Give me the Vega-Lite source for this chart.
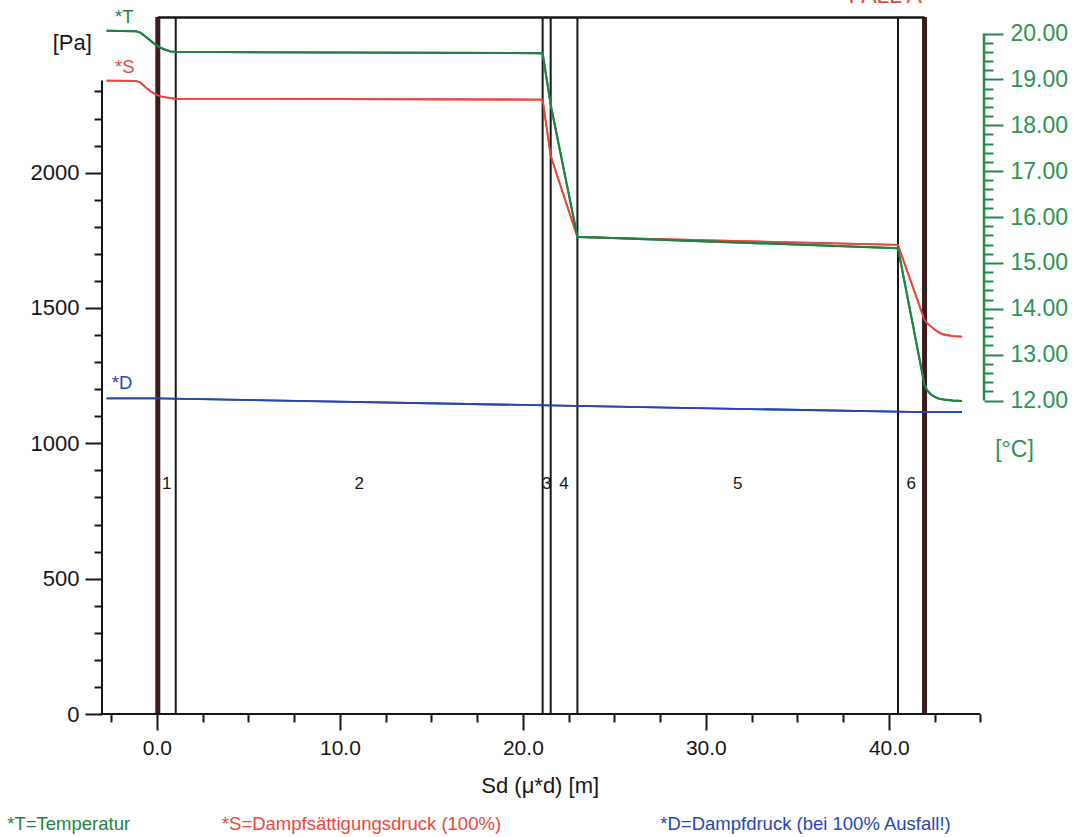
{
  "$schema": "https://vega.github.io/schema/vega-lite/v6.json",
  "width": 882,
  "height": 697,
  "autosize": {"type": "none"},
  "padding": {"left": 102, "top": 17, "right": 91, "bottom": 123},
  "background": "white",
  "config": {
    "view": {"stroke": null},
    "font": "Liberation Sans",
    "text": {"font": "Liberation Sans"},
    "axis": {"labelOverlap": false, "labelFlush": false, "labelBound": false},
    "axisQuantitative": {"labelOverlap": false}
  },
  "datasets": {
    "temperatur": [
      {"sd": -2.75, "t": 20.06}, {"sd": -1.15, "t": 20.05}, {"sd": -0.9, "t": 20.02},
      {"sd": -0.61, "t": 19.93}, {"sd": -0.33, "t": 19.84}, {"sd": -0.06, "t": 19.75},
      {"sd": 0.2, "t": 19.69}, {"sd": 0.49, "t": 19.64}, {"sd": 0.75, "t": 19.61},
      {"sd": 1.03, "t": 19.6}, {"sd": 21.08, "t": 19.57}, {"sd": 21.52, "t": 18.45},
      {"sd": 22.98, "t": 15.57}, {"sd": 40.5, "t": 15.32}, {"sd": 41.95, "t": 12.34},
      {"sd": 42.1, "t": 12.22}, {"sd": 42.3, "t": 12.13}, {"sd": 42.5, "t": 12.08},
      {"sd": 42.75, "t": 12.04}, {"sd": 43.0, "t": 12.02}, {"sd": 43.5, "t": 12.0},
      {"sd": 44.0, "t": 11.99}
    ],
    "druck": [
      {"sd": -2.75, "pa": 2340, "reihe": "S"}, {"sd": -1.15, "pa": 2339, "reihe": "S"},
      {"sd": -0.9, "pa": 2333, "reihe": "S"}, {"sd": -0.61, "pa": 2315, "reihe": "S"},
      {"sd": -0.33, "pa": 2300, "reihe": "S"}, {"sd": -0.06, "pa": 2289, "reihe": "S"},
      {"sd": 0.2, "pa": 2282, "reihe": "S"}, {"sd": 0.49, "pa": 2278, "reihe": "S"},
      {"sd": 0.75, "pa": 2275, "reihe": "S"}, {"sd": 1.03, "pa": 2273, "reihe": "S"},
      {"sd": 21.08, "pa": 2270, "reihe": "S"}, {"sd": 21.52, "pa": 2062, "reihe": "S"},
      {"sd": 22.98, "pa": 1762, "reihe": "S"}, {"sd": 40.5, "pa": 1733, "reihe": "S"},
      {"sd": 41.95, "pa": 1455, "reihe": "S"}, {"sd": 42.1, "pa": 1443, "reihe": "S"},
      {"sd": 42.3, "pa": 1432, "reihe": "S"}, {"sd": 42.5, "pa": 1420, "reihe": "S"},
      {"sd": 42.75, "pa": 1409, "reihe": "S"}, {"sd": 43.0, "pa": 1402, "reihe": "S"},
      {"sd": 43.5, "pa": 1396, "reihe": "S"}, {"sd": 44.0, "pa": 1394, "reihe": "S"},
      {"sd": -2.75, "pa": 1166, "reihe": "D"}, {"sd": 0.05, "pa": 1166, "reihe": "D"},
      {"sd": 41.95, "pa": 1115, "reihe": "D"}, {"sd": 44.0, "pa": 1115, "reihe": "D"}
    ],
    "grenzen": [
      {"sd": 0.05, "rand": true}, {"sd": 1.03, "rand": false}, {"sd": 21.08, "rand": false},
      {"sd": 21.52, "rand": false}, {"sd": 22.98, "rand": false}, {"sd": 40.5, "rand": false},
      {"sd": 41.95, "rand": true}
    ],
    "schichten": [
      {"nr": "1", "sd": 0.54}, {"nr": "2", "sd": 11.06}, {"nr": "3", "sd": 21.3},
      {"nr": "4", "sd": 22.25}, {"nr": "5", "sd": 31.74}, {"nr": "6", "sd": 41.23}
    ],
    "kurzzeichen": [
      {"text": "*T", "sd": -2.29, "pa": 2552, "reihe": "T"},
      {"text": "*S", "sd": -2.29, "pa": 2367, "reihe": "S"},
      {"text": "*D", "sd": -2.47, "pa": 1200, "reihe": "D"}
    ],
    "legende": [
      {"text": "*T=Temperatur", "sd": -8.18, "pa": -428, "reihe": "T"},
      {"text": "*S=Dampfsättigungsdruck (100%)", "sd": 3.55, "pa": -428, "reihe": "S"},
      {"text": "*D=Dampfdruck (bei 100% Ausfall!)", "sd": 27.51, "pa": -428, "reihe": "D"}
    ],
    "fall": [
      {"text": "FALL A", "sd": 37.79, "pa": 2625, "reihe": "S"}
    ]
  },
  "layer": [
    {
      "layer": [
        {
          "data": {"name": "druck"},
          "mark": {"type": "line", "strokeWidth": 1.8},
          "encoding": {
            "x": {
              "field": "sd", "type": "quantitative",
              "scale": {"domain": [-3.0, 45.2], "nice": false, "zero": false},
              "axis": {
                "values": [-2.5, 0, 2.5, 5, 7.5, 10, 12.5, 15, 17.5, 20, 22.5, 25, 27.5, 30, 32.5, 35, 37.5, 40, 42.5, 45],
                "tickCount": 200,
                "domain": false, "grid": false,
                "tickColor": "#161616", "tickWidth": 2,
                "tickSize": {"condition": {"test": "datum.value % 10 === 0", "value": 16}, "value": 8},
                "labelExpr": "datum.value % 10 === 0 ? format(datum.value, '.1f') : ''",
                "labelFont": "Liberation Sans", "labelFontSize": 21, "labelColor": "#161616",
                "labelPadding": 7, "labelOverlap": false, "labelFlush": false, "labelBound": false,
                "title": "Sd (μ*d) [m]", "titleFont": "Liberation Sans", "titleFontSize": 22,
                "titleFontWeight": "normal", "titleColor": "#161616",
                "titleX": 437.7, "titleY": 78.7, "titleAlign": "center", "titleBaseline": "alphabetic"
              }
            },
            "y": {
              "field": "pa", "type": "quantitative",
              "scale": {"domain": [0, 2575], "nice": false, "zero": false},
              "axis": {
                "orient": "left",
                "values": [0, 100, 200, 300, 400, 500, 600, 700, 800, 900, 1000, 1100, 1200, 1300, 1400, 1500, 1600, 1700, 1800, 1900, 2000, 2100, 2200, 2300],
                "tickCount": 200,
                "domain": false, "grid": false,
                "tickColor": "#161616", "tickWidth": 2,
                "tickSize": {"condition": {"test": "datum.value % 500 === 0", "value": 17}, "value": 8},
                "labelExpr": "datum.value % 500 === 0 ? format(datum.value, 'd') : ''",
                "labelFont": "Liberation Sans", "labelFontSize": 22, "labelColor": "#161616",
                "labelPadding": 6, "labelOverlap": false, "labelBound": false, "labelFlush": false,
                "title": "[Pa]", "titleFont": "Liberation Sans", "titleFontSize": 22,
                "titleFontWeight": "normal", "titleColor": "#161616", "titleAngle": 0,
                "titleX": -30.3, "titleY": 32.3, "titleAlign": "center", "titleBaseline": "alphabetic"
              }
            },
            "color": {"field": "reihe", "type": "nominal", "scale": {"domain": ["T", "S", "D"], "range": ["#1f8244", "#e8473d", "#2747ae"]}, "legend": null},
            "detail": {"field": "reihe"}
          }
        },
        {
          "data": {"name": "grenzen"},
          "transform": [{"filter": "datum.rand == false"}],
          "mark": {"type": "rule", "color": "#161616", "strokeWidth": 2},
          "encoding": {
            "x": {"field": "sd", "type": "quantitative", "scale": {"domain": [-3.0, 45.2], "nice": false, "zero": false}},
            "y": {"datum": 0, "type": "quantitative", "scale": {"domain": [0, 2575], "nice": false, "zero": false}},
            "y2": {"datum": 2575}
          }
        },
        {
          "data": {"name": "grenzen"},
          "transform": [{"filter": "datum.rand == true"}],
          "mark": {"type": "rule", "color": "#3a1c1e", "strokeWidth": 5},
          "encoding": {
            "x": {"field": "sd", "type": "quantitative", "scale": {"domain": [-3.0, 45.2], "nice": false, "zero": false}},
            "y": {"datum": 0, "type": "quantitative", "scale": {"domain": [0, 2575], "nice": false, "zero": false}},
            "y2": {"datum": 2575}
          }
        },
        {
          "data": {"values": [{}]},
          "mark": {"type": "rule", "color": "#161616", "strokeWidth": 2.5},
          "encoding": {
            "x": {"datum": 0.05, "type": "quantitative", "scale": {"domain": [-3.0, 45.2], "nice": false, "zero": false}},
            "x2": {"datum": 41.95},
            "y": {"datum": 2573, "type": "quantitative", "scale": {"domain": [0, 2575], "nice": false, "zero": false}}
          }
        },
        {
          "data": {"values": [{}]},
          "mark": {"type": "rule", "color": "#161616", "strokeWidth": 2},
          "encoding": {
            "x": {"datum": -3.0, "type": "quantitative", "scale": {"domain": [-3.0, 45.2], "nice": false, "zero": false}},
            "y": {"datum": 0, "type": "quantitative", "scale": {"domain": [0, 2575], "nice": false, "zero": false}},
            "y2": {"datum": 2340}
          }
        },
        {
          "data": {"values": [{}]},
          "mark": {"type": "rule", "color": "#161616", "strokeWidth": 2},
          "encoding": {
            "x": {"datum": -3.1, "type": "quantitative", "scale": {"domain": [-3.0, 45.2], "nice": false, "zero": false}},
            "x2": {"datum": 45.0},
            "y": {"datum": 0, "type": "quantitative", "scale": {"domain": [0, 2575], "nice": false, "zero": false}}
          }
        },
        {
          "data": {"name": "druck"},
          "mark": {"type": "line", "strokeWidth": 1.8},
          "encoding": {
            "x": {"field": "sd", "type": "quantitative", "scale": {"domain": [-3.0, 45.2], "nice": false, "zero": false}},
            "y": {"field": "pa", "type": "quantitative", "scale": {"domain": [0, 2575], "nice": false, "zero": false}},
            "color": {"field": "reihe", "type": "nominal", "scale": {"domain": ["T", "S", "D"], "range": ["#1f8244", "#e8473d", "#2747ae"]}, "legend": null},
            "detail": {"field": "reihe"}
          }
        },
        {
          "data": {"name": "schichten"},
          "mark": {"type": "text", "fontSize": 17, "color": "#161616", "align": "center", "baseline": "alphabetic"},
          "encoding": {
            "x": {"field": "sd", "type": "quantitative", "scale": {"domain": [-3.0, 45.2], "nice": false, "zero": false}},
            "y": {"datum": 830, "type": "quantitative", "scale": {"domain": [0, 2575], "nice": false, "zero": false}},
            "text": {"field": "nr"}
          }
        },
        {
          "data": {"name": "kurzzeichen"},
          "mark": {"type": "text", "fontSize": 18.5, "align": "left", "baseline": "alphabetic"},
          "encoding": {
            "x": {"field": "sd", "type": "quantitative", "scale": {"domain": [-3.0, 45.2], "nice": false, "zero": false}},
            "y": {"field": "pa", "type": "quantitative", "scale": {"domain": [0, 2575], "nice": false, "zero": false}},
            "text": {"field": "text"},
            "color": {"field": "reihe", "type": "nominal", "scale": {"domain": ["T", "S", "D"], "range": ["#1f8244", "#e8473d", "#2747ae"]}, "legend": null}
          }
        },
        {
          "data": {"name": "legende"},
          "mark": {"type": "text", "fontSize": 18.5, "align": "left", "baseline": "alphabetic"},
          "encoding": {
            "x": {"field": "sd", "type": "quantitative", "scale": {"domain": [-3.0, 45.2], "nice": false, "zero": false}},
            "y": {"field": "pa", "type": "quantitative", "scale": {"domain": [0, 2575], "nice": false, "zero": false}},
            "text": {"field": "text"},
            "color": {"field": "reihe", "type": "nominal", "scale": {"domain": ["T", "S", "D"], "range": ["#1f8244", "#e8473d", "#2747ae"]}, "legend": null}
          }
        },
        {
          "data": {"name": "fall"},
          "mark": {"type": "text", "fontSize": 23, "align": "left", "baseline": "alphabetic"},
          "encoding": {
            "x": {"field": "sd", "type": "quantitative", "scale": {"domain": [-3.0, 45.2], "nice": false, "zero": false}},
            "y": {"field": "pa", "type": "quantitative", "scale": {"domain": [0, 2575], "nice": false, "zero": false}},
            "text": {"field": "text"},
            "color": {"field": "reihe", "type": "nominal", "scale": {"domain": ["T", "S", "D"], "range": ["#1f8244", "#e8473d", "#2747ae"]}, "legend": null}
          }
        }
      ]
    },
    {
      "layer": [
        {
          "data": {"name": "temperatur"},
          "mark": {"type": "line", "strokeWidth": 2, "color": "#1f8244"},
          "encoding": {
            "x": {"field": "sd", "type": "quantitative", "scale": {"domain": [-3.0, 45.2], "nice": false, "zero": false}},
            "y": {
              "field": "t", "type": "quantitative",
              "scale": {"domain": [5.166, 20.36], "nice": false, "zero": false},
              "axis": {
                "orient": "right",
                "values": [12, 12.2, 12.4, 12.6, 12.8, 13, 13.2, 13.4, 13.6, 13.8, 14, 14.2, 14.4, 14.6, 14.8, 15, 15.2, 15.4, 15.6, 15.8, 16, 16.2, 16.4, 16.6, 16.8, 17, 17.2, 17.4, 17.6, 17.8, 18, 18.2, 18.4, 18.6, 18.8, 19, 19.2, 19.4, 19.6, 19.8, 20],
                "tickCount": 200,
                "domain": false, "grid": false,
                "tickColor": "#23894a", "tickWidth": 2,
                "tickSize": {"condition": {"test": "abs(datum.value - round(datum.value)) < 0.01", "value": 19}, "value": 9},
                "labelExpr": "abs(datum.value - round(datum.value)) < 0.01 ? format(datum.value, '.2f') : ''",
                "labelFont": "Liberation Sans", "labelFontSize": 23, "labelColor": "#2a9450",
                "labelPadding": 7, "labelOverlap": false, "labelBound": false, "labelFlush": false,
                "title": "[°C]", "titleFont": "Liberation Sans", "titleFontSize": 23,
                "titleFontWeight": "normal", "titleColor": "#2a9450", "titleAngle": 0,
                "titleX": 30, "titleY": 439.7, "titleAlign": "center", "titleBaseline": "alphabetic"
              }
            }
          }
        },
        {
          "data": {"values": [{}]},
          "mark": {"type": "rule", "color": "#23894a", "strokeWidth": 2.5},
          "encoding": {
            "x": {"datum": 45.2, "type": "quantitative", "scale": {"domain": [-3.0, 45.2], "nice": false, "zero": false}},
            "y": {"datum": 12, "type": "quantitative", "scale": {"domain": [5.166, 20.36], "nice": false, "zero": false}},
            "y2": {"datum": 20}
          }
        },
        {
          "data": {"name": "temperatur"},
          "mark": {"type": "line", "strokeWidth": 2, "color": "#1f8244"},
          "encoding": {
            "x": {"field": "sd", "type": "quantitative", "scale": {"domain": [-3.0, 45.2], "nice": false, "zero": false}},
            "y": {"field": "t", "type": "quantitative", "scale": {"domain": [5.166, 20.36], "nice": false, "zero": false}}
          }
        }
      ]
    }
  ],
  "resolve": {"scale": {"y": "independent"}, "axis": {"y": "independent"}}
}
